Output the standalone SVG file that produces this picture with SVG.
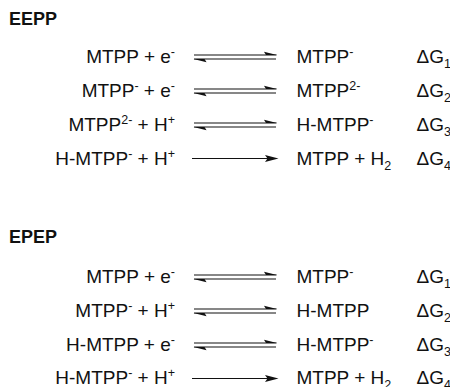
<svg xmlns="http://www.w3.org/2000/svg" width="450" height="387" viewBox="0 0 450 387">
<defs>
<style>
text{font-family:"Liberation Sans",Arial,Helvetica,sans-serif;font-size:19px;fill:#111}
.h{font-weight:bold;font-size:18px}
.l{text-anchor:end}
.sp{font-size:12.5px}
line{stroke:#111;stroke-width:1.2}
polygon{fill:#111}
</style>
<g id="eq">
<line x1="194" y1="-2" x2="276.5" y2="-2"/>
<polygon points="277,-2 264,-5.2 266,-2"/>
<line x1="194" y1="2" x2="276" y2="2"/>
<polygon points="193.5,2 206.5,5.2 204.5,2"/>
</g>
<g id="fw">
<line x1="192" y1="0" x2="268" y2="0"/>
<polygon points="278.5,0 265,-3.6 267.5,0 265,3.6"/>
</g>
</defs>
<rect width="450" height="387" fill="#fff"/>
<g id="connectors">
<use href="#eq" transform="translate(0,57)"/>
<use href="#eq" transform="translate(0,91)"/>
<use href="#eq" transform="translate(0,125)"/>
<use href="#fw" transform="translate(0,158.5)"/>
<use href="#eq" transform="translate(0,277)"/>
<use href="#eq" transform="translate(0,311)"/>
<use href="#eq" transform="translate(0,345)"/>
<use href="#fw" transform="translate(0,378.5)"/>
</g>
<g id="title-eepp"><text class="h" x="9" y="24.5">EEPP</text></g>
<g id="eepp-1">
<text class="l" x="175" y="63">MTPP + e<tspan class="sp" dy="-7">-</tspan></text>
<text x="296.5" y="63">MTPP<tspan class="sp" dy="-7">-</tspan></text>
<text x="416.5" y="63">ΔG<tspan class="sp" dy="5">1</tspan></text>
</g>
<g id="eepp-2">
<text class="l" x="175" y="97">MTPP<tspan class="sp" dy="-7">-</tspan><tspan dy="7"> + e</tspan><tspan class="sp" dy="-7">-</tspan></text>
<text x="296.5" y="97">MTPP<tspan class="sp" dy="-7">2-</tspan></text>
<text x="416.5" y="97">ΔG<tspan class="sp" dy="5">2</tspan></text>
</g>
<g id="eepp-3">
<text class="l" x="175" y="131">MTPP<tspan class="sp" dy="-7">2-</tspan><tspan dy="7"> + H</tspan><tspan class="sp" dy="-7">+</tspan></text>
<text x="296.5" y="131">H-MTPP<tspan class="sp" dy="-7">-</tspan></text>
<text x="416.5" y="131">ΔG<tspan class="sp" dy="5">3</tspan></text>
</g>
<g id="eepp-4">
<text class="l" x="175" y="165">H-MTPP<tspan class="sp" dy="-7">-</tspan><tspan dy="7"> + H</tspan><tspan class="sp" dy="-7">+</tspan></text>
<text x="296.5" y="165">MTPP + H<tspan class="sp" dy="5">2</tspan></text>
<text x="416.5" y="165">ΔG<tspan class="sp" dy="5">4</tspan></text>
</g>
<g id="title-epep"><text class="h" x="9" y="242.5">EPEP</text></g>
<g id="epep-1">
<text class="l" x="175" y="283">MTPP + e<tspan class="sp" dy="-7">-</tspan></text>
<text x="296.5" y="283">MTPP<tspan class="sp" dy="-7">-</tspan></text>
<text x="416.5" y="283">ΔG<tspan class="sp" dy="5">1</tspan></text>
</g>
<g id="epep-2">
<text class="l" x="175" y="317">MTPP<tspan class="sp" dy="-7">-</tspan><tspan dy="7"> + H</tspan><tspan class="sp" dy="-7">+</tspan></text>
<text x="296.5" y="317">H-MTPP</text>
<text x="416.5" y="317">ΔG<tspan class="sp" dy="5">2</tspan></text>
</g>
<g id="epep-3">
<text class="l" x="175" y="351">H-MTPP + e<tspan class="sp" dy="-7">-</tspan></text>
<text x="296.5" y="351">H-MTPP<tspan class="sp" dy="-7">-</tspan></text>
<text x="416.5" y="351">ΔG<tspan class="sp" dy="5">3</tspan></text>
</g>
<g id="epep-4">
<text class="l" x="175" y="384">H-MTPP<tspan class="sp" dy="-7">-</tspan><tspan dy="7"> + H</tspan><tspan class="sp" dy="-7">+</tspan></text>
<text x="296.5" y="384">MTPP + H<tspan class="sp" dy="5">2</tspan></text>
<text x="416.5" y="384">ΔG<tspan class="sp" dy="5">4</tspan></text>
</g>
</svg>
